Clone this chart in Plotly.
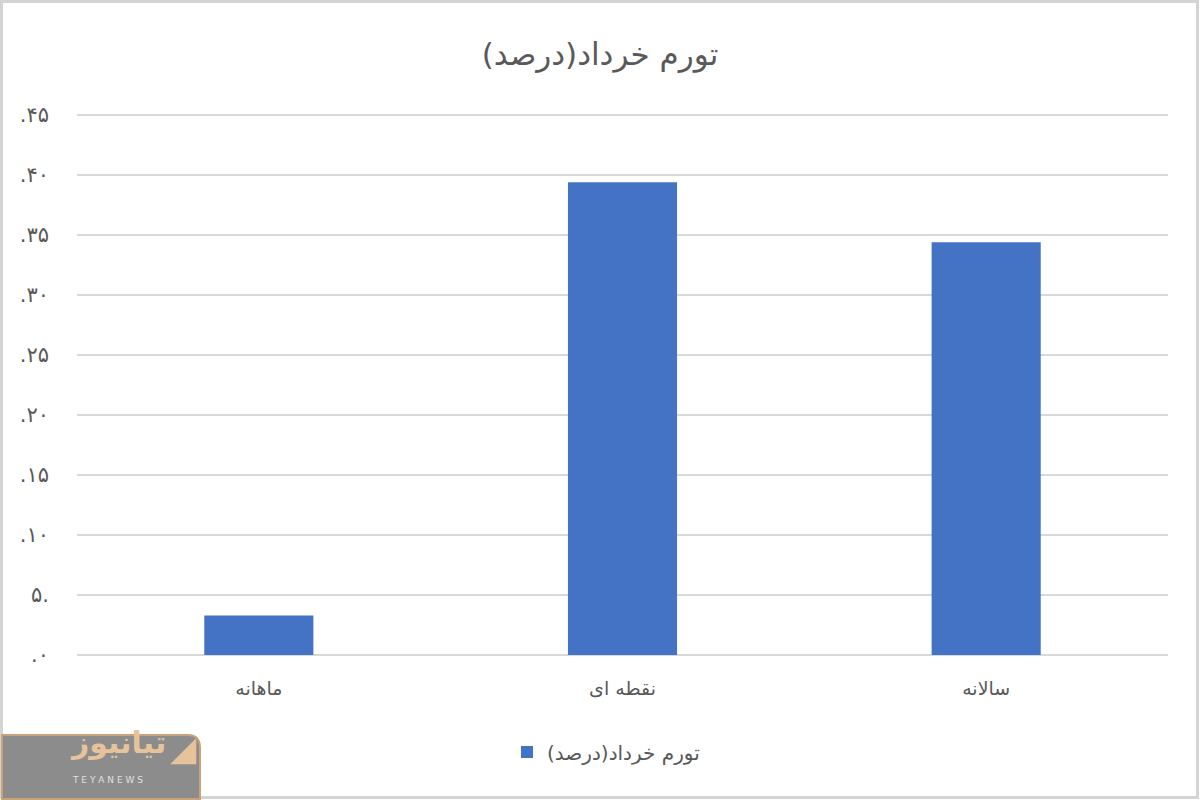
import plotly.graph_objects as go

categories = ["ماهانه", "نقطه ای", "سالانه"]
values = [3.3, 39.4, 34.4]
series_name = "تورم خرداد(درصد)"
title_text = "تورم خرداد(درصد)"
tick_vals = [0, 5, 10, 15, 20, 25, 30, 35, 40, 45]
tick_text = [".۰", "۵.", ".۱۰", ".۱۵", ".۲۰", ".۲۵", ".۳۰", ".۳۵", ".۴۰", ".۴۵"]

W, H = 1200, 800
L, R, T, B = 77, 32, 109, 145
pw, ph = W - L - R, H - T - B

def px_x(x):
    return (x - L) / pw

def px_y(y):
    return (H - B - y) / ph

FONT = "DejaVu Sans, Tahoma, Arial, sans-serif"
GREY = "#595959"
GRID = "#d9d9d9"

fig = go.Figure()
fig.add_trace(go.Bar(
    x=categories, y=values, name=series_name,
    marker=dict(color="#4472C4", line=dict(width=0)),
    showlegend=True,
))

fig.update_layout(
    width=W, height=H,
    margin=dict(l=L, r=R, t=T, b=B),
    paper_bgcolor="white", plot_bgcolor="white",
    bargap=0.7,
    font=dict(family=FONT, color=GREY, size=15),
    title=dict(text=title_text, x=0.5, xref="container", xanchor="center",
               y=1 - 54 / H, yanchor="middle",
               font=dict(size=31, color=GREY, family=FONT)),
    showlegend=True,
    legend=dict(orientation="h", x=px_x(606), xanchor="center",
                y=px_y(752), yanchor="middle",
                font=dict(size=20, color=GREY, family=FONT)),
    xaxis=dict(showgrid=False, showline=False, zeroline=False,
               ticks="", ticklabelstandoff=20,
               tickfont=dict(size=19, color=GREY, family=FONT)),
    yaxis=dict(range=[0, 45.5], tickvals=tick_vals, ticktext=tick_text,
               showgrid=True, gridcolor=GRID, gridwidth=1.5,
               zeroline=True, zerolinecolor=GRID, zerolinewidth=1.5,
               showline=False, ticks="",
               ticklabelstandoff=27,
               tickfont=dict(size=21, color=GREY, family=FONT)),
)

# outer light-grey frame of the image
fig.add_shape(type="rect", xref="paper", yref="paper",
              x0=px_x(1.5), x1=px_x(1197.5), y0=px_y(797.5), y1=px_y(1.5),
              line=dict(color="#d4d4d4", width=3), fillcolor="rgba(0,0,0,0)",
              layer="below")

# watermark logo box
fig.add_shape(type="path", xref="paper", yref="paper",
              path=("M {a},{b} L {c},{b} Q {d},{b} {d},{e} L {d},{f} L {a},{f} Z").format(
                  a=px_x(2), b=px_y(735), c=px_x(188), d=px_x(200),
                  e=px_y(748), f=px_y(799)),
              line=dict(color="#c9a27a", width=2), fillcolor="#8c8c8c",
              layer="above")
fig.add_annotation(xref="paper", yref="paper", x=px_x(68), y=px_y(762),
                   text="<b>تیانیوز</b>", showarrow=False,
                   font=dict(size=30, color="#e6c39a", family=FONT))
fig.add_annotation(xref="paper", yref="paper", x=px_x(70), y=px_y(787),
                   text="T E Y A N E W S", showarrow=False,
                   font=dict(size=9, color="#e0e0e0", family=FONT))
fig.add_annotation(xref="paper", yref="paper", x=px_x(168), y=px_y(770),
                   text="<b>◢</b>", showarrow=False,
                   font=dict(size=34, color="#e6c39a", family=FONT))

fig.write_html("out.html", config={"displayModeBar": False},
               post_script="document.body.style.margin='0px';document.body.style.overflow='hidden';")
